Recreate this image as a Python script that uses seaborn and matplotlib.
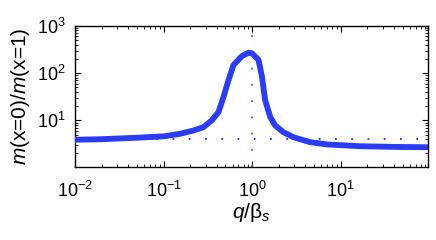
import numpy as np
import pandas as pd
import matplotlib
matplotlib.use('Agg')
import matplotlib.pyplot as plt
import seaborn as sns
from matplotlib.ticker import LogLocator, NullFormatter

sns.set_style('ticks')
plt.rcParams['font.family'] = ['Liberation Sans', 'DejaVu Sans']
plt.rcParams['mathtext.fontset'] = 'custom'
plt.rcParams['mathtext.rm'] = 'Liberation Sans'
plt.rcParams['mathtext.it'] = 'Liberation Sans:italic'
plt.rcParams['mathtext.bf'] = 'Liberation Sans:bold'
for k in ['text.color', 'axes.labelcolor', 'xtick.color', 'ytick.color', 'axes.edgecolor']:
    plt.rcParams[k] = 'black'

# 数据
q_ratio = [0.01, 0.02, 0.05, 0.1, 0.153, 0.217, 0.282, 0.35, 0.417, 0.474,
           0.54, 0.615, 0.766, 0.908, 0.993, 1.18, 1.29, 1.40, 1.60, 1.82,
           2.26, 2.93, 4.52, 6.98, 16.6, 39.8, 97.0]
m_ratio = [3.9, 4.0, 4.3, 4.6, 5.2, 6.1, 7.2, 10, 15, 31,
           71, 148, 230, 270, 264, 190, 84, 27, 11.8, 7.8,
           5.6, 4.4, 3.46, 3.1, 2.84, 2.75, 2.7]
ref_level = 3.95   # 水平参考线
ref_q = 1.0        # 竖直参考线

df = pd.DataFrame({'q': q_ratio, 'm': m_ratio})

fig = plt.figure(figsize=(4.36, 2.4), dpi=100)
ax = fig.add_axes([0.172, 0.304, 0.81, 0.588])

ax.axhline(ref_level, color='#2030ff', linestyle=(0, (1, 8)), linewidth=1.3, zorder=1)
ax.axvline(ref_q, color='#20a020', linestyle=(0, (1, 8)), linewidth=1.3, zorder=1)
sns.lineplot(data=df, x='q', y='m', ax=ax, color='#2a3cf5', linewidth=4.2, zorder=3)

ax.set_xscale('log')
ax.set_yscale('log')
ax.set_xlim(0.01, 97)
ax.set_ylim(1.03, 1000)
ax.set_xticks([0.01, 0.1, 1, 10])
ax.set_yticks([10, 100, 1000])
ax.xaxis.set_minor_locator(LogLocator(base=10, subs=np.arange(2, 10), numticks=20))
ax.yaxis.set_minor_locator(LogLocator(base=10, subs=np.arange(2, 10), numticks=20))
ax.xaxis.set_minor_formatter(NullFormatter())
ax.yaxis.set_minor_formatter(NullFormatter())
ax.tick_params(which='both', direction='in', top=True, right=True, labelsize=13)
ax.tick_params(axis='x', which='both', pad=10)
ax.tick_params(axis='y', which='both', pad=7)
ax.tick_params(which='major', length=4, width=0.8)
ax.tick_params(which='minor', length=2, width=0.6)
for s in ax.spines.values():
    s.set_linewidth(1.0)

ax.set_xlabel(r'$q/\mathrm{\beta}_{\mathit{s}}$', fontsize=15, labelpad=0)
ax.set_ylabel(r'$m$(x=0)/$m$(x=1)', fontsize=15, labelpad=3)

fig.savefig('out.png', dpi=100)
